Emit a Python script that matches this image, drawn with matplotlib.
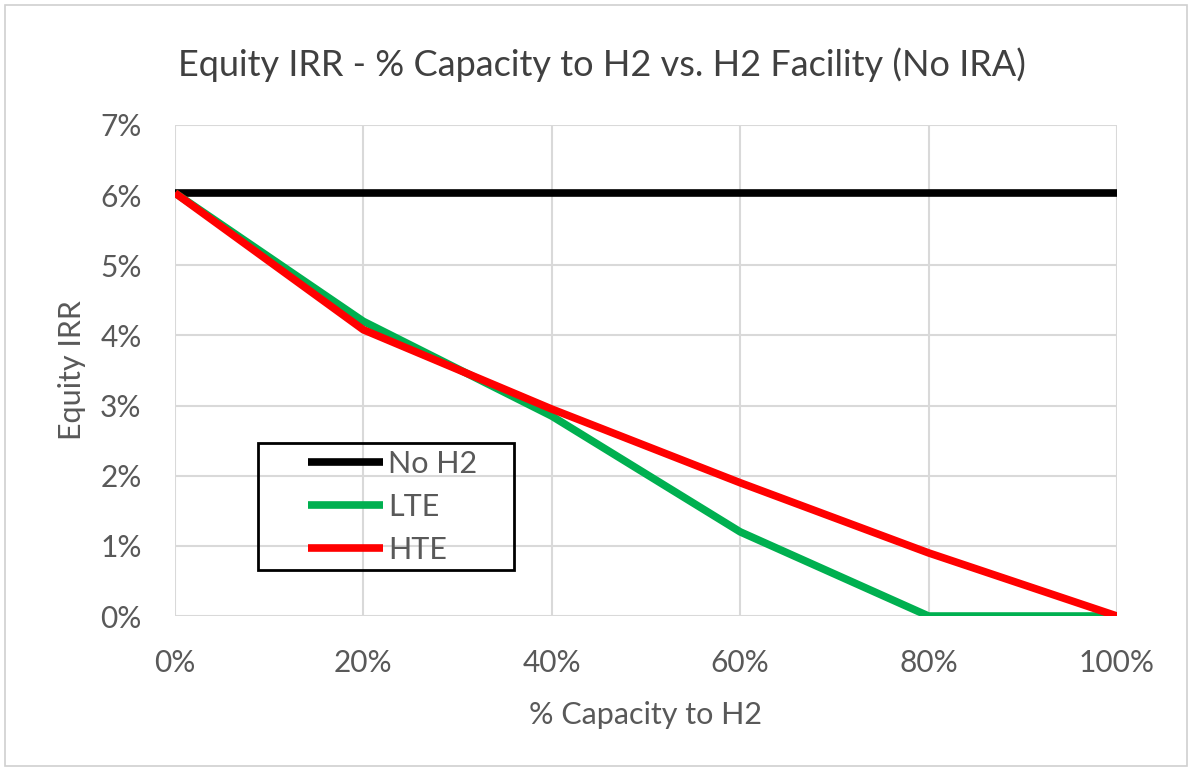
import matplotlib.pyplot as plt
from matplotlib.ticker import FuncFormatter
from matplotlib.patches import Rectangle

plt.rcParams['font.family'] = ['Lato', 'DejaVu Sans']

capacity = [0, 20, 40, 60, 80, 100]
no_h2 = [6.03, 6.03, 6.03, 6.03, 6.03, 6.03]
lte = [6.03, 4.2, 2.85, 1.2, 0.0, 0.0]
hte = [6.03, 4.08, 2.95, 1.9, 0.9, 0.0]

fig = plt.figure(figsize=(11.92, 7.71), dpi=100)
fig.patches.append(Rectangle((0.004, 0.006), 0.992, 0.988, transform=fig.transFigure,
                             fill=False, edgecolor='#d0d0d0', linewidth=1.2))
ax = fig.add_axes([0.1468, 0.201, 0.7902, 0.637])

ax.plot(capacity, no_h2, color='black', lw=5.5, label='No H2', solid_capstyle='butt')
ax.plot(capacity, lte, color='#00b050', lw=5.5, label='LTE', solid_capstyle='butt')
ax.plot(capacity, hte, color='#ff0000', lw=5.5, label='HTE', solid_capstyle='butt')

ax.set_xlim(0, 100)
ax.set_ylim(0, 7)
ax.set_xticks(range(0, 101, 20))
ax.set_yticks(range(0, 8))
ax.xaxis.set_major_formatter(FuncFormatter(lambda v, p: f'{v:.0f}%'))
ax.yaxis.set_major_formatter(FuncFormatter(lambda v, p: f'{v:.0f}%'))
ax.grid(True, color='#d9d9d9', lw=1.5)
ax.set_axisbelow(True)
for s in ax.spines.values():
    s.set_visible(False)
ax.tick_params(length=0, labelsize=21.5, labelcolor='#595959')
ax.tick_params(axis='x', pad=24)
ax.tick_params(axis='y', pad=24)

fig.text(0.505, 0.916, 'Equity IRR - % Capacity to H2 vs. H2 Facility (No IRA)',
         fontsize=26, color='#404040', ha='center', va='center')
ax.set_xlabel('% Capacity to H2', fontsize=22, color='#595959', labelpad=17)
ax.set_ylabel('Equity IRR', fontsize=22, color='#595959', labelpad=10)

# legend box drawn separately (wider padding than the default frame)
ax.add_patch(Rectangle((0.0881, 0.0937), 0.2718, 0.2586, transform=ax.transAxes,
                       fill=False, edgecolor='black', lw=2, zorder=5))
leg = ax.legend(loc='upper left', bbox_to_anchor=(0.141, 0.339), fontsize=22,
                frameon=False, handlelength=2.45, handletextpad=0.18,
                borderpad=0, labelspacing=0.5, borderaxespad=0)
for t in leg.get_texts():
    t.set_color('#595959')

fig.savefig('out.png', dpi=100)
